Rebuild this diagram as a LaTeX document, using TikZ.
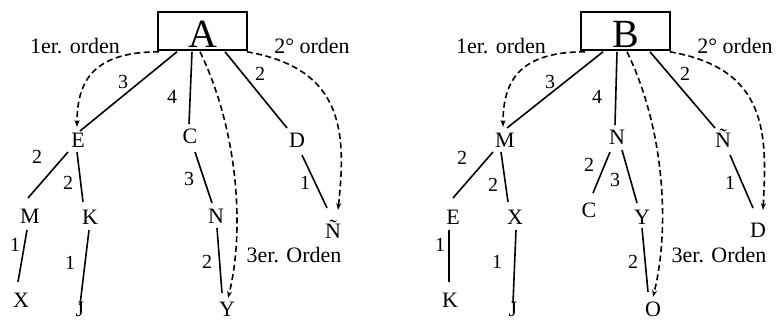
\documentclass[tikz,border=0pt]{standalone}
\usepackage{fontspec}
\setmainfont{Liberation Serif}
\usetikzlibrary{arrows.meta,calc}
\begin{document}
\begin{tikzpicture}[x=1pt,y=-1pt,
  lt/.style={font=\fontsize{22}{22}\selectfont, inner sep=0pt, text height=14pt, text depth=0pt},
  num/.style={font=\fontsize{20}{20}\selectfont, inner sep=0pt},
  note/.style={font=\fontsize{22}{22}\selectfont, inner sep=0pt},
  rootbox/.style={draw, line width=1.6pt, minimum width=89pt, minimum height=38pt, inner sep=0pt, text height=26pt, text depth=0pt, font=\fontsize{40}{40}\selectfont},
  edge/.style={line width=1.6pt},
  order/.style={line width=1.6pt, dash pattern=on 6pt off 3.5pt, -{Stealth[length=7pt,width=5pt]}},
]
\useasboundingbox (0,0) rectangle (778,322);
\clip (0,0) rectangle (778,322);

% ---------------- Tree A ----------------
\node[rootbox] (A) at (202.5,31) {\raisebox{-3pt}{A}};
\node[lt] (E1) at (78,140) {E};
\node[lt] (C1) at (190,136) {C};
\node[lt] (D1) at (297,140) {D};
\node[lt] (M1) at (30,216) {M};
\node[lt] (K1) at (90,217) {K};
\node[lt] (N1) at (216,216) {N};
\node[lt] (Nt1) at (333,231) {Ñ};
\node[lt] (X1) at (21,300) {X};
\node[lt] (J1) at (80,309) {J};
\node[lt] (Y1) at (227,309) {Y};

\node[num] at (123,82) {3};
\node[num] at (172,97) {4};
\node[num] at (260,74) {2};
\node[num] at (37,157) {2};
\node[num] at (68,183) {2};
\node[num] at (15,245) {1};
\node[num] at (70,263) {1};
\node[num] at (189,179) {3};
\node[num] at (207,262) {2};
\node[num] at (305,183) {1};

\node[note] at (75,46) {1er. orden};
\node[note] at (312,46) {2° orden};
\node[note] at (294,255) {3er. Orden};

\draw[edge] ($(A.south)+(-25.5,1)$) -- ($(E1)+(2,-9)$);
\draw[edge] ($(A.south)+(-10.5,1)$) -- ($(C1)+(-1,-12)$);
\draw[edge] ($(A.south)+(22.5,1)$) -- ($(D1)+(-10,-12)$);
\draw[edge] ($(E1)+(-10,12)$) -- ($(M1)+(-2,-18)$);
\draw[edge] ($(E1)+(-1,12)$) -- ($(K1)+(-7,-15)$);
\draw[edge] ($(M1)+(-3,14)$) -- ($(X1)+(-3,-18)$);
\draw[edge] ($(K1)+(-1,13)$) -- ($(J1)+(0,-4)$);
\draw[edge] ($(C1)+(5,16)$) -- ($(N1)+(-4,-13)$);
\draw[edge] ($(N1)+(1,12)$) -- ($(Y1)+(-5,-16)$);
\draw[edge] ($(D1)+(5,15)$) -- ($(Nt1)+(-6,-23)$);

\draw[order] ($(A.south west)+(2,1)$) .. controls +(-65,0) and +(0,-47) .. ($(E1)+(-1,-13)$);
\draw[order] ($(A.south)+(-2.5,1)$) .. controls +(38,78) and +(17,-68) .. ($(Y1)+(1,-11)$);
\draw[order] ($(A.south east)+(-1,1)$) .. controls +(99,17) and +(8,-75) .. ($(Nt1)+(5,-21)$);

% ---------------- Tree B ----------------
\node[rootbox] (B) at (625.5,31) {\raisebox{-3pt}{B}};
\node[lt] (M2) at (505,140) {M};
\node[lt] (N2) at (617,137) {N};
\node[lt] (Nt2) at (723,140) {Ñ};
\node[lt] (E2) at (453,217) {E};
\node[lt] (X2) at (515,217) {X};
\node[lt] (C2) at (589,210) {C};
\node[lt] (Y2) at (642,217) {Y};
\node[lt] (D2) at (758,230) {D};
\node[lt] (K2) at (450,300) {K};
\node[lt] (J2) at (513,309) {J};
\node[lt] (O2) at (653,309) {O};

\node[num] at (550,82) {3};
\node[num] at (597,97) {4};
\node[num] at (685,74) {2};
\node[num] at (462,158) {2};
\node[num] at (493,185) {2};
\node[num] at (440,245) {1};
\node[num] at (497,262) {1};
\node[num] at (589,165) {2};
\node[num] at (615,180) {3};
\node[num] at (633,262) {2};
\node[num] at (730,183) {1};

\node[note] at (501,46) {1er. orden};
\node[note] at (735,46) {2° orden};
\node[note] at (719,255) {3er. Orden};

\draw[edge] ($(B.south)+(-22.5,1)$) -- ($(M2)+(2,-12)$);
\draw[edge] ($(B.south)+(-8.5,1)$) -- ($(N2)+(-2,-12)$);
\draw[edge] ($(B.south)+(24.5,1)$) -- ($(Nt2)+(-8,-12)$);
\draw[edge] ($(M2)+(-12,12)$) -- ($(E2)+(0,-19)$);
\draw[edge] ($(M2)+(-4,12)$) -- ($(X2)+(-7,-15)$);
\draw[edge] ($(E2)+(-4,13)$) -- ($(K2)+(-1,-18)$);
\draw[edge] ($(X2)+(1,13)$) -- ($(J2)+(0,-6)$);
\draw[edge] ($(N2)+(-7,15)$) -- ($(C2)+(4,-17)$);
\draw[edge] ($(N2)+(5,13)$) -- ($(Y2)+(-5,-14)$);
\draw[edge] ($(Y2)+(0,11)$) -- ($(O2)+(-5,-17)$);
\draw[edge] ($(Nt2)+(7,15)$) -- ($(D2)+(-5,-22)$);

\draw[order] ($(B.south west)+(5,1)$) .. controls +(-65,0) and +(0,-47) .. ($(M2)+(-2,-13)$);
\draw[order] ($(B.south)+(1.5,1)$) .. controls +(38,78) and +(17,-68) .. ($(O2)+(0,-12)$);
\draw[order] ($(B.south east)+(-1,1)$) .. controls +(99,17) and +(4,-75) .. ($(D2)+(5,-20)$);
\end{tikzpicture}
\end{document}
